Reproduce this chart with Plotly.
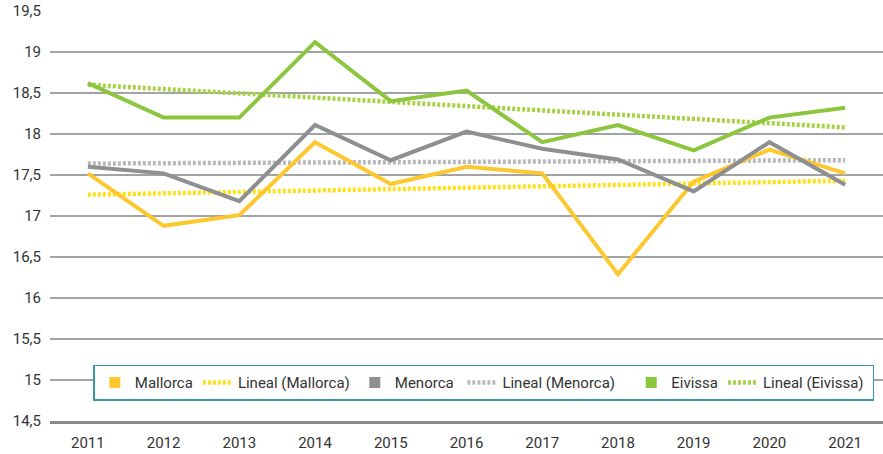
import plotly.graph_objects as go

years = ["2011", "2012", "2013", "2014", "2015", "2016", "2017", "2018", "2019", "2020", "2021"]
mallorca = [17.52, 16.88, 17.01, 17.9, 17.39, 17.6, 17.52, 16.29, 17.42, 17.81, 17.52]
menorca = [17.6, 17.52, 17.18, 18.11, 17.68, 18.03, 17.82, 17.69, 17.3, 17.9, 17.38]
eivissa = [18.62, 18.2, 18.2, 19.12, 18.4, 18.53, 17.9, 18.11, 17.8, 18.2, 18.32]
# trend-line endpoints (first and last year)
trend_years = ["2011", "2021"]
trend_mallorca = [17.26, 17.43]
trend_menorca = [17.64, 17.68]
trend_eivissa = [18.6, 18.08]

NB = "\u00a0"
c_mal, c_mal_t = "#FDC82F", "#FFE11A"
c_men, c_men_t = "#8E8F90", "#B9B9BD"
c_eiv, c_eiv_t = "#8CC63E", "#A9D047"

fig = go.Figure()

def add_series(name, y, color, order):
    fig.add_trace(go.Scatter(x=years, y=y, mode="lines", line=dict(color=color, width=4),
                             showlegend=False, hoverinfo="skip"))
    fig.add_trace(go.Scatter(x=[None], y=[None], mode="markers", name=name,
                             marker=dict(symbol="square", size=11, color=color),
                             legendrank=order))

def add_trend(name, y, color, order):
    fig.add_trace(go.Scatter(x=trend_years, y=y, mode="lines", name=name,
                             line=dict(color=color, width=4.5, dash="3px,2px"),
                             legendrank=order))

add_trend("Lineal (Mallorca)", trend_mallorca, c_mal_t, 2)
add_trend("Lineal (Menorca)" + NB * 3, trend_menorca, c_men_t, 4)
add_trend("Lineal (Eivissa)" + NB, trend_eivissa, c_eiv_t, 6)
add_series("Mallorca", mallorca, c_mal, 1)
add_series("Menorca" + NB, menorca, c_men, 3)
add_series("Eivissa", eivissa, c_eiv, 5)

fig.update_layout(
    width=883, height=454,
    margin=dict(l=50, r=0, t=11, b=33),
    paper_bgcolor="white", plot_bgcolor="white",
    separators=",.",
    font=dict(family="Roboto", size=15, color="#333333"),
    xaxis=dict(type="category", categoryorder="array", categoryarray=years,
               range=[-0.5, 10.5], showgrid=False, automargin=False,
               showline=True, linecolor="#8A8A8A", linewidth=3,
               ticks="", ticklabelstandoff=6, tickfont=dict(size=15, color="#333333")),
    yaxis=dict(range=[14.5, 19.5], dtick=0.5, tick0=14.5, showgrid=True, automargin=False,
               gridcolor="#A3A3A3", gridwidth=1.5, zeroline=False,
               ticks="", ticklabelstandoff=8, tickfont=dict(size=15, color="#333333")),
    legend=dict(orientation="h", x=0.052, y=0.137, xanchor="left", yanchor="top",
                bordercolor="#3A95A8", borderwidth=1.5, bgcolor="white",
                font=dict(size=15, color="#333333"), traceorder="normal",
                itemwidth=30),
)

fig.write_html("out.html", config={"displayModeBar": False},
               post_script="document.body.style.margin='0';")
